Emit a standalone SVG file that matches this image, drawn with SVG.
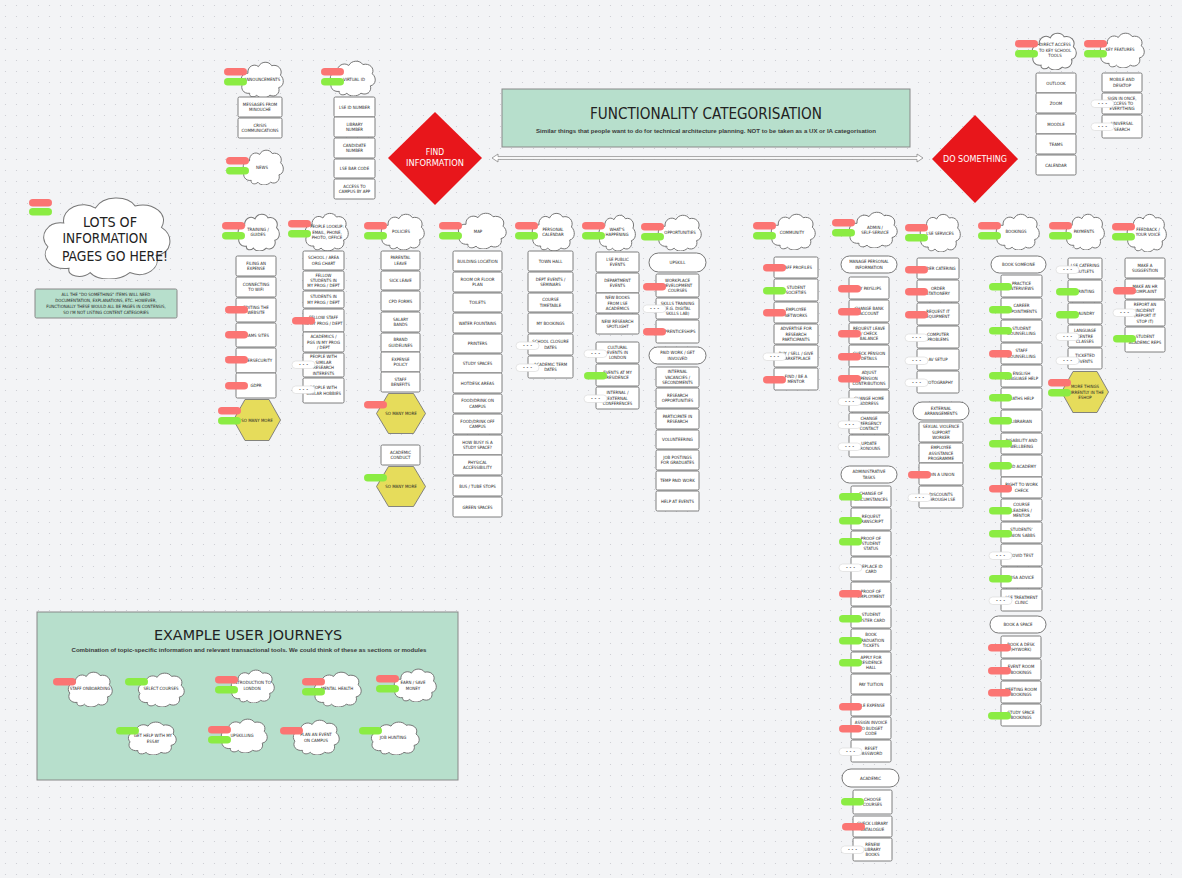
<svg xmlns="http://www.w3.org/2000/svg" width="1182" height="878" viewBox="0 0 1182 878">
<style>
.b{fill:#fff;stroke:#707070;stroke-width:0.9}
.p{fill:#fff;stroke:#6a6a6a;stroke-width:0.9}
.hx{fill:#e6dc5b;stroke:#777;stroke-width:0.9}
.t{font-family:"DejaVu Sans Condensed","DejaVu Sans",sans-serif;font-stretch:condensed;font-size:4.4px;fill:#262626;text-anchor:middle;dominant-baseline:central}
.h{font-family:"DejaVu Sans Condensed","DejaVu Sans",sans-serif;font-stretch:condensed;fill:#222;text-anchor:middle}
.s{font-family:"Liberation Sans",Arial,sans-serif;font-weight:bold;fill:#3a3a3a;text-anchor:middle}
.w{font-family:"DejaVu Sans Condensed","DejaVu Sans",sans-serif;font-stretch:condensed;fill:#fff;text-anchor:middle}
.mint{fill:#b7dfcc;stroke:#888;stroke-width:1}
</style>
<defs>
<pattern id="grid" width="11" height="11" patternUnits="userSpaceOnUse"><circle cx="5.5" cy="5.5" r="0.6" fill="#c9cbcf"/></pattern>
<symbol id="cloud" viewBox="0 0 100 80" preserveAspectRatio="none"><path d="M22,70 C8,72 0,60 6,50 C-2,40 6,26 18,28 C16,14 32,6 42,14 C48,2 66,2 72,12 C86,8 98,20 92,32 C102,40 100,56 88,58 C92,70 80,80 68,74 C60,82 44,82 38,74 C32,80 20,78 22,70 Z" fill="#fff" stroke="#777" stroke-width="1" vector-effect="non-scaling-stroke"/></symbol>
<symbol id="hex" viewBox="0 0 100 86" preserveAspectRatio="none"><polygon points="25,1 75,1 99,43 75,85 25,85 1,43" class="hx" vector-effect="non-scaling-stroke"/></symbol>
<rect id="rp" width="23" height="7.5" rx="3.75" fill="#fb7573"/>
<rect id="gp" width="23" height="7.5" rx="3.75" fill="#8bec43"/>
<g id="dp"><rect width="23" height="7.5" rx="3.75" fill="#fff" stroke="#d6d6d6" stroke-width="0.6"/><text x="11.5" y="3.9" font-family="DejaVu Sans,sans-serif" font-size="4" fill="#777" text-anchor="middle" dominant-baseline="central">• • •</text></g>
</defs>
<rect width="1182" height="878" fill="#f3f4f6"/>
<rect width="1182" height="878" fill="url(#grid)"/>

<g id="connectors">
<polygon points="492,158 498,154 498,156.6 917,156.6 917,154 923,158 917,162 917,159.4 498,159.4 498,162" fill="#fff" stroke="#8a8a8a" stroke-width="0.8"/>
</g>

<g id="title">
<rect x="502" y="89" width="408" height="58" class="mint"/>
<text class="h" x="706" y="119" font-size="15" textLength="232" lengthAdjust="spacingAndGlyphs">FUNCTIONALITY CATEGORISATION</text>
<text class="s" x="706" y="133" font-size="5.6" textLength="340" lengthAdjust="spacingAndGlyphs">Similar things that people want to do for technical architecture planning. NOT to be taken as a UX or IA categorisation</text>
</g>

<g id="find-information">
<polygon points="435,112 482,158 435,205 388,158" fill="#e8161b"/>
<text class="w" x="435" y="155" font-size="8.5">FIND</text>
<text class="w" x="435" y="166" font-size="8.5" textLength="58" lengthAdjust="spacingAndGlyphs">INFORMATION</text>
</g>
<g id="do-something">
<polygon points="975,115 1018,159 975,203 932,159" fill="#e8161b"/>
<text class="w" x="975" y="162" font-size="8.5" textLength="64" lengthAdjust="spacingAndGlyphs">DO SOMETHING</text>
</g>

<g id="lots-of-info">
<use href="#cloud" x="40" y="193" width="132" height="86"/>
<text class="h" x="110" y="227" font-size="14" textLength="54" lengthAdjust="spacingAndGlyphs">LOTS OF</text>
<text class="h" x="105" y="243" font-size="14" textLength="85" lengthAdjust="spacingAndGlyphs">INFORMATION</text>
<text class="h" x="115" y="261" font-size="14" textLength="106" lengthAdjust="spacingAndGlyphs">PAGES GO HERE!</text>
<use href="#rp" x="29" y="199"/><use href="#gp" x="29" y="208"/>
</g>
<g id="note">
<rect x="35" y="289" width="142" height="29" rx="1.5" class="mint"/>
<text class="t" x="106" y="294.5" font-size="4.3">ALL THE "DO SOMETHING" ITEMS WILL NEED</text>
<text class="t" x="106" y="300.5" font-size="4.3">DOCUMENTATION, EXPLANATIONS, ETC. HOWEVER,</text>
<text class="t" x="106" y="306.5" font-size="4.3">FUNCTIONALLY THESE WOULD ALL BE PAGES IN CONTENSIS,</text>
<text class="t" x="106" y="312.5" font-size="4.3">SO I'M NOT LISTING CONTENT CATEGORIES</text>
</g>

<!-- Announcements -->
<g id="announcements">
<use href="#cloud" x="240" y="60" width="44" height="38"/>
<text class="t" x="262" y="79">ANNOUNCEMENTS</text>
<use href="#rp" x="224" y="68"/><use href="#gp" x="224" y="78"/>
</g>
<g id="ann-1"><rect class="b" x="238" y="97" width="44" height="20" rx="1.5"/><text class="t" x="260" y="104.3">MESSAGES FROM</text><text class="t" x="260" y="109.7">MINOUCHE</text></g>
<g id="ann-2"><rect class="b" x="238" y="118" width="44" height="20" rx="1.5"/><text class="t" x="260" y="125.3">CRISIS</text><text class="t" x="260" y="130.7">COMMUNICATIONS</text></g>

<g id="news">
<use href="#cloud" x="242" y="148" width="42" height="37"/>
<text class="t" x="262" y="167">NEWS</text>
<use href="#rp" x="226" y="157"/><use href="#gp" x="226" y="167"/>
</g>

<!-- Virtual ID -->
<g id="virtual-id">
<use href="#cloud" x="329" y="59" width="47" height="37"/>
<text class="t" x="354" y="79">VIRTUAL ID</text>
<use href="#rp" x="321" y="68"/><use href="#gp" x="321" y="78"/>
</g>
<g id="vid-1"><rect class="b" x="334" y="97" width="41" height="20" rx="1.5"/><text class="t" x="354.5" y="107">LSE ID NUMBER</text></g>
<g id="vid-2"><rect class="b" x="334" y="117" width="41" height="20" rx="1.5"/><text class="t" x="354.5" y="124.3">LIBRARY</text><text class="t" x="354.5" y="129.7">NUMBER</text></g>
<g id="vid-3"><rect class="b" x="334" y="138" width="41" height="20" rx="1.5"/><text class="t" x="354.5" y="145.3">CANDIDATE</text><text class="t" x="354.5" y="150.7">NUMBER</text></g>
<g id="vid-4"><rect class="b" x="334" y="159" width="41" height="19" rx="1.5"/><text class="t" x="354.5" y="168.5">LSE BAR CODE</text></g>
<g id="vid-5"><rect class="b" x="334" y="179" width="41" height="20" rx="1.5"/><text class="t" x="354.5" y="186.3">ACCESS TO</text><text class="t" x="354.5" y="191.7">CAMPUS BY APP</text></g>

<!-- Training -->
<g id="training">
<use href="#cloud" x="237" y="212" width="43" height="39"/>
<text class="t" x="258" y="229.3">TRAINING /</text><text class="t" x="258" y="234.7">GUIDES</text>
<use href="#rp" x="222" y="222"/><use href="#gp" x="222" y="232"/>
</g>
<g id="tr-1"><rect class="b" x="236" y="256" width="40" height="20" rx="1.5"/><text class="t" x="256" y="263.3">FILING AN</text><text class="t" x="256" y="268.7">EXPENSE</text></g>
<g id="tr-2"><rect class="b" x="236" y="277" width="40" height="20" rx="1.5"/><text class="t" x="256" y="284.3">CONNECTING</text><text class="t" x="256" y="289.7">TO WIFI</text></g>
<g id="tr-3"><rect class="b" x="236" y="298" width="40" height="24" rx="1.5"/><text class="t" x="256" y="307.3">EDITING THE</text><text class="t" x="256" y="312.7">WEBSITE</text><use href="#rp" x="225" y="306"/></g>
<g id="tr-4"><rect class="b" x="236" y="323" width="40" height="24" rx="1.5"/><text class="t" x="256" y="335">TEAMS SITES</text><use href="#rp" x="225" y="331"/></g>
<g id="tr-5"><rect class="b" x="236" y="348" width="40" height="25" rx="1.5"/><text class="t" x="256" y="360.5">CYBERSECURITY</text><use href="#rp" x="225" y="356"/></g>
<g id="tr-6"><rect class="b" x="236" y="373" width="40" height="25" rx="1.5"/><text class="t" x="256" y="385.5">GDPR</text><use href="#rp" x="225" y="382"/></g>
<g id="tr-more"><use href="#hex" x="233" y="399" width="48" height="42"/><text class="t" x="257" y="420">SO MANY MORE</text><use href="#rp" x="218" y="407"/><use href="#gp" x="218" y="417"/></g>

<!-- People lookup -->
<g id="people-lookup">
<use href="#cloud" x="304" y="211" width="45" height="40"/>
<text class="t" x="327" y="226.6">PEOPLE LOOKUP:</text><text class="t" x="327" y="232">EMAIL, PHONE,</text><text class="t" x="327" y="237.4">PHOTO, OFFICE</text>
<use href="#rp" x="288" y="220"/><use href="#gp" x="288" y="230"/>
</g>
<g id="pl-1"><rect class="b" x="303" y="251" width="41" height="19" rx="1.5"/><text class="t" x="323.5" y="257.8">SCHOOL / AREA</text><text class="t" x="323.5" y="263.2">ORG CHART</text></g>
<g id="pl-2"><rect class="b" x="303" y="271" width="41" height="19" rx="1.5"/><text class="t" x="323.5" y="275.1">FELLOW</text><text class="t" x="323.5" y="280.5">STUDENTS IN</text><text class="t" x="323.5" y="285.9">MY PROG / DEPT</text></g>
<g id="pl-3"><rect class="b" x="303" y="291" width="41" height="17" rx="1.5"/><text class="t" x="323.5" y="296.8">STUDENTS IN</text><text class="t" x="323.5" y="302.2">MY PROG / DEPT</text></g>
<g id="pl-4"><rect class="b" x="303" y="309" width="41" height="23" rx="1.5"/><text class="t" x="323.5" y="317.8">FELLOW STAFF</text><text class="t" x="323.5" y="323.2">IN MY PROG / DEPT</text><use href="#rp" x="292" y="317"/></g>
<g id="pl-5"><rect class="b" x="303" y="332" width="41" height="20" rx="1.5"/><text class="t" x="323.5" y="336.6">ACADEMICS /</text><text class="t" x="323.5" y="342">PGS IN MY PROG</text><text class="t" x="323.5" y="347.4">/ DEPT</text></g>
<g id="pl-6"><rect class="b" x="303" y="353" width="41" height="24" rx="1.5"/><text class="t" x="323.5" y="356.9">PEOPLE WITH</text><text class="t" x="323.5" y="362.3">SIMILAR</text><text class="t" x="323.5" y="367.7">RESEARCH</text><text class="t" x="323.5" y="373.1">INTERESTS</text><use href="#dp" x="292" y="361"/></g>
<g id="pl-7"><rect class="b" x="303" y="378" width="41" height="25" rx="1.5"/><text class="t" x="323.5" y="387.8">PEOPLE WITH</text><text class="t" x="323.5" y="393.2">SIMILAR HOBBIES</text><use href="#dp" x="292" y="386"/></g>

<!-- Policies -->
<g id="policies">
<use href="#cloud" x="380" y="212" width="45" height="38"/>
<text class="t" x="401" y="231">POLICIES</text>
<use href="#rp" x="364" y="222"/><use href="#gp" x="364" y="232"/>
</g>
<g id="po-1"><rect class="b" x="381" y="251" width="39" height="19" rx="1.5"/><text class="t" x="400.5" y="257.8">PARENTAL</text><text class="t" x="400.5" y="263.2">LEAVE</text></g>
<g id="po-2"><rect class="b" x="381" y="271" width="39" height="19" rx="1.5"/><text class="t" x="400.5" y="280.5">SICK LEAVE</text></g>
<g id="po-3"><rect class="b" x="381" y="291" width="39" height="20" rx="1.5"/><text class="t" x="400.5" y="301">CPD FORMS</text></g>
<g id="po-4"><rect class="b" x="381" y="312" width="39" height="20" rx="1.5"/><text class="t" x="400.5" y="319.3">SALARY</text><text class="t" x="400.5" y="324.7">BANDS</text></g>
<g id="po-5"><rect class="b" x="381" y="333" width="39" height="19" rx="1.5"/><text class="t" x="400.5" y="339.8">BRAND</text><text class="t" x="400.5" y="345.2">GUIDELINES</text></g>
<g id="po-6"><rect class="b" x="381" y="352" width="39" height="20" rx="1.5"/><text class="t" x="400.5" y="359.3">EXPENSE</text><text class="t" x="400.5" y="364.7">POLICY</text></g>
<g id="po-7"><rect class="b" x="381" y="372" width="39" height="20" rx="1.5"/><text class="t" x="400.5" y="379.3">STAFF</text><text class="t" x="400.5" y="384.7">BENEFITS</text></g>
<g id="po-more"><use href="#hex" x="376" y="393" width="50" height="41"/><text class="t" x="401" y="413.5">SO MANY MORE</text><use href="#rp" x="364" y="401"/></g>
<g id="po-academic"><rect class="b" x="381" y="445" width="39" height="20" rx="1.5"/><text class="t" x="400.5" y="452.3">ACADEMIC</text><text class="t" x="400.5" y="457.7">CONDUCT</text></g>
<g id="po-more2"><use href="#hex" x="376" y="466" width="50" height="41"/><text class="t" x="401" y="486.5">SO MANY MORE</text><use href="#gp" x="364" y="474"/></g>

<!-- Map -->
<g id="map">
<use href="#cloud" x="457" y="211" width="50" height="38"/>
<text class="t" x="478" y="231">MAP</text>
<use href="#rp" x="439" y="222"/><use href="#gp" x="439" y="232"/>
</g>
<g id="map-1"><rect class="b" x="453" y="251" width="49" height="20" rx="1.5"/><text class="t" x="477.5" y="261">BUILDING LOCATION</text></g>
<g id="map-2"><rect class="b" x="453" y="272" width="49" height="20" rx="1.5"/><text class="t" x="477.5" y="279.3">ROOM OR FLOOR</text><text class="t" x="477.5" y="284.7">PLAN</text></g>
<g id="map-3"><rect class="b" x="453" y="293" width="49" height="19" rx="1.5"/><text class="t" x="477.5" y="302.5">TOILETS</text></g>
<g id="map-4"><rect class="b" x="453" y="313" width="49" height="20" rx="1.5"/><text class="t" x="477.5" y="323">WATER FOUNTAINS</text></g>
<g id="map-5"><rect class="b" x="453" y="334" width="49" height="19" rx="1.5"/><text class="t" x="477.5" y="343.5">PRINTERS</text></g>
<g id="map-6"><rect class="b" x="453" y="354" width="49" height="19" rx="1.5"/><text class="t" x="477.5" y="363.5">STUDY SPACES</text></g>
<g id="map-7"><rect class="b" x="453" y="373" width="49" height="20" rx="1.5"/><text class="t" x="477.5" y="383">HOTDESK AREAS</text></g>
<g id="map-8"><rect class="b" x="453" y="394" width="49" height="19" rx="1.5"/><text class="t" x="477.5" y="400.8">FOOD/DRINK ON</text><text class="t" x="477.5" y="406.2">CAMPUS</text></g>
<g id="map-9"><rect class="b" x="453" y="414" width="49" height="20" rx="1.5"/><text class="t" x="477.5" y="421.3">FOOD/DRINK OFF</text><text class="t" x="477.5" y="426.7">CAMPUS</text></g>
<g id="map-10"><rect class="b" x="453" y="435" width="49" height="20" rx="1.5"/><text class="t" x="477.5" y="442.3">HOW BUSY IS A</text><text class="t" x="477.5" y="447.7">STUDY SPACE?</text></g>
<g id="map-11"><rect class="b" x="453" y="455" width="49" height="20" rx="1.5"/><text class="t" x="477.5" y="462.3">PHYSICAL</text><text class="t" x="477.5" y="467.7">ACCESSIBILITY</text></g>
<g id="map-12"><rect class="b" x="453" y="476" width="49" height="20" rx="1.5"/><text class="t" x="477.5" y="486">BUS / TUBE STOPS</text></g>
<g id="map-13"><rect class="b" x="453" y="497" width="49" height="20" rx="1.5"/><text class="t" x="477.5" y="507">GREEN SPACES</text></g>

<!-- Personal calendar -->
<g id="personal-calendar">
<use href="#cloud" x="531" y="211" width="44" height="40"/>
<text class="t" x="553" y="229.3">PERSONAL</text><text class="t" x="553" y="234.7">CALENDAR</text>
<use href="#rp" x="515" y="222"/><use href="#gp" x="515" y="232"/>
</g>
<g id="pc-1"><rect class="b" x="528" y="251" width="45" height="20" rx="1.5"/><text class="t" x="550.5" y="261">TOWN HALL</text></g>
<g id="pc-2"><rect class="b" x="528" y="272" width="45" height="20" rx="1.5"/><text class="t" x="550.5" y="279.3">DEPT EVENTS /</text><text class="t" x="550.5" y="284.7">SEMINARS</text></g>
<g id="pc-3"><rect class="b" x="528" y="293" width="45" height="19" rx="1.5"/><text class="t" x="550.5" y="299.8">COURSE</text><text class="t" x="550.5" y="305.2">TIMETABLE</text></g>
<g id="pc-4"><rect class="b" x="528" y="313" width="45" height="20" rx="1.5"/><text class="t" x="550.5" y="323">MY BOOKINGS</text></g>
<g id="pc-5"><rect class="b" x="528" y="334" width="45" height="21" rx="1.5"/><text class="t" x="550.5" y="341.8">SCHOOL CLOSURE</text><text class="t" x="550.5" y="347.2">DATES</text><use href="#dp" x="516" y="342"/></g>
<g id="pc-6"><rect class="b" x="528" y="356" width="45" height="22" rx="1.5"/><text class="t" x="550.5" y="364.3">ACADEMIC TERM</text><text class="t" x="550.5" y="369.7">DATES</text><use href="#dp" x="516" y="364"/></g>

<!-- What's happening -->
<g id="whats-happening">
<use href="#cloud" x="598" y="213" width="38" height="38"/>
<text class="t" x="617" y="229.3">WHAT'S</text><text class="t" x="617" y="234.7">HAPPENING</text>
<use href="#rp" x="582" y="222"/><use href="#gp" x="582" y="232"/>
</g>
<g id="wh-1"><rect class="b" x="596" y="252" width="43" height="20" rx="1.5"/><text class="t" x="617.5" y="259.3">LSE PUBLIC</text><text class="t" x="617.5" y="264.7">EVENTS</text></g>
<g id="wh-2"><rect class="b" x="596" y="273" width="43" height="20" rx="1.5"/><text class="t" x="617.5" y="280.3">DEPARTMENT</text><text class="t" x="617.5" y="285.7">EVENTS</text></g>
<g id="wh-3"><rect class="b" x="596" y="293" width="43" height="20" rx="1.5"/><text class="t" x="617.5" y="297.6">NEW BOOKS</text><text class="t" x="617.5" y="303">FROM LSE</text><text class="t" x="617.5" y="308.4">ACADEMICS</text></g>
<g id="wh-4"><rect class="b" x="596" y="314" width="43" height="20" rx="1.5"/><text class="t" x="617.5" y="321.3">NEW RESEARCH</text><text class="t" x="617.5" y="326.7">SPOTLIGHT</text></g>
<g id="wh-5"><rect class="b" x="596" y="342" width="43" height="21" rx="1.5"/><text class="t" x="617.5" y="347.1">CULTURAL</text><text class="t" x="617.5" y="352.5">EVENTS IN</text><text class="t" x="617.5" y="357.9">LONDON</text><use href="#dp" x="584" y="350"/></g>
<g id="wh-6"><rect class="b" x="596" y="364" width="43" height="22" rx="1.5"/><text class="t" x="617.5" y="372.3">EVENTS AT MY</text><text class="t" x="617.5" y="377.7">RESIDENCE</text><use href="#gp" x="584" y="372"/></g>
<g id="wh-7"><rect class="b" x="596" y="387" width="43" height="22" rx="1.5"/><text class="t" x="617.5" y="392.6">INTERNAL /</text><text class="t" x="617.5" y="398">EXTERNAL</text><text class="t" x="617.5" y="403.4">CONFERENCES</text><use href="#dp" x="584" y="395"/></g>

<!-- Opportunities -->
<g id="opportunities">
<use href="#cloud" x="657" y="213" width="45" height="38"/>
<text class="t" x="680" y="232">OPPORTUNITIES</text>
<use href="#rp" x="641" y="223"/><use href="#gp" x="641" y="233"/>
</g>
<g id="op-upskill"><rect class="p" x="649" y="253" width="57" height="19" rx="9.5"/><text class="t" x="677.5" y="262.5">UPSKILL</text></g>
<g id="op-1"><rect class="b" x="656" y="274" width="43" height="23" rx="1.5"/><text class="t" x="677.5" y="280.1">WORKPLACE</text><text class="t" x="677.5" y="285.5">DEVELOPMENT</text><text class="t" x="677.5" y="290.9">COURSES</text><use href="#rp" x="643" y="283"/></g>
<g id="op-2"><rect class="b" x="656" y="298" width="43" height="21" rx="1.5"/><text class="t" x="677.5" y="303.1">SKILLS TRAINING</text><text class="t" x="677.5" y="308.5">(E.G. DIGITAL</text><text class="t" x="677.5" y="313.9">SKILLS LAB)</text><use href="#dp" x="643" y="305"/></g>
<g id="op-3"><rect class="b" x="656" y="320" width="43" height="23" rx="1.5"/><text class="t" x="677.5" y="331.5">APPRENTICESHIPS</text><use href="#rp" x="643" y="328"/></g>
<g id="op-paid"><rect class="p" x="649" y="347" width="57" height="17" rx="8.5"/><text class="t" x="677.5" y="352.8">PAID WORK / GET</text><text class="t" x="677.5" y="358.2">INVOLVED</text></g>
<g id="op-4"><rect class="b" x="656" y="367" width="43" height="20" rx="1.5"/><text class="t" x="677.5" y="371.6">INTERNAL</text><text class="t" x="677.5" y="377">VACANCIES /</text><text class="t" x="677.5" y="382.4">SECONDMENTS</text></g>
<g id="op-5"><rect class="b" x="656" y="388" width="43" height="20" rx="1.5"/><text class="t" x="677.5" y="395.3">RESEARCH</text><text class="t" x="677.5" y="400.7">OPPORTUNITIES</text></g>
<g id="op-6"><rect class="b" x="656" y="409" width="43" height="20" rx="1.5"/><text class="t" x="677.5" y="416.3">PARTICIPATE IN</text><text class="t" x="677.5" y="421.7">RESEARCH</text></g>
<g id="op-7"><rect class="b" x="656" y="430" width="43" height="19" rx="1.5"/><text class="t" x="677.5" y="439.5">VOLUNTEERING</text></g>
<g id="op-8"><rect class="b" x="656" y="450" width="43" height="20" rx="1.5"/><text class="t" x="677.5" y="457.3">JOB POSTINGS</text><text class="t" x="677.5" y="462.7">FOR GRADUATES</text></g>
<g id="op-9"><rect class="b" x="656" y="471" width="43" height="19" rx="1.5"/><text class="t" x="677.5" y="480.5">TEMP PAID WORK</text></g>
<g id="op-10"><rect class="b" x="656" y="491" width="43" height="20" rx="1.5"/><text class="t" x="677.5" y="501">HELP AT EVENTS</text></g>

<!-- Community -->
<g id="community">
<use href="#cloud" x="770" y="212" width="46" height="38"/>
<text class="t" x="792" y="232">COMMUNITY</text>
<use href="#rp" x="753" y="222"/><use href="#gp" x="753" y="232"/>
</g>
<g id="co-1"><rect class="b" x="774" y="257" width="44" height="21" rx="1.5"/><text class="t" x="796" y="267.5">STAFF PROFILES</text><use href="#rp" x="763" y="264"/></g>
<g id="co-2"><rect class="b" x="774" y="279" width="44" height="22" rx="1.5"/><text class="t" x="796" y="287.3">STUDENT</text><text class="t" x="796" y="292.7">SOCIETIES</text><use href="#gp" x="763" y="287"/></g>
<g id="co-3"><rect class="b" x="774" y="302" width="44" height="21" rx="1.5"/><text class="t" x="796" y="309.8">EMPLOYEE</text><text class="t" x="796" y="315.2">NETWORKS</text><use href="#rp" x="763" y="309"/></g>
<g id="co-4"><rect class="b" x="774" y="324" width="44" height="20" rx="1.5"/><text class="t" x="796" y="328.6">ADVERTISE FOR</text><text class="t" x="796" y="334">RESEARCH</text><text class="t" x="796" y="339.4">PARTICIPANTS</text></g>
<g id="co-5"><rect class="b" x="774" y="345" width="44" height="22" rx="1.5"/><text class="t" x="796" y="353.3">BUY / SELL / GIVE</text><text class="t" x="796" y="358.7">MARKETPLACE</text><use href="#dp" x="763" y="353"/></g>
<g id="co-6"><rect class="b" x="774" y="368" width="44" height="22" rx="1.5"/><text class="t" x="796" y="376.3">FIND / BE A</text><text class="t" x="796" y="381.7">MENTOR</text><use href="#rp" x="763" y="376"/></g>

<!-- Admin / self-service -->
<g id="admin">
<use href="#cloud" x="848" y="210" width="50" height="38"/>
<text class="t" x="875" y="227.3">ADMIN /</text><text class="t" x="875" y="232.7">SELF-SERVICE</text>
<use href="#rp" x="832" y="219"/><use href="#gp" x="832" y="229"/>
</g>
<g id="ad-manage"><rect class="p" x="841" y="256" width="56" height="17" rx="8.5"/><text class="t" x="869" y="261.8">MANAGE PERSONAL</text><text class="t" x="869" y="267.2">INFORMATION</text></g>
<g id="ad-1"><rect class="b" x="849" y="277" width="40" height="22" rx="1.5"/><text class="t" x="869" y="288">MY PAYSLIPS</text><use href="#rp" x="838" y="285"/></g>
<g id="ad-2"><rect class="b" x="849" y="300" width="40" height="22" rx="1.5"/><text class="t" x="869" y="308.3">CHANGE BANK</text><text class="t" x="869" y="313.7">ACCOUNT</text><use href="#rp" x="838" y="308"/></g>
<g id="ad-3"><rect class="b" x="849" y="323" width="40" height="21" rx="1.5"/><text class="t" x="869" y="328.1">REQUEST LEAVE</text><text class="t" x="869" y="333.5">/ CHECK</text><text class="t" x="869" y="338.9">BALANCE</text><use href="#rp" x="838" y="330"/></g>
<g id="ad-4"><rect class="b" x="849" y="345" width="40" height="22" rx="1.5"/><text class="t" x="869" y="353.3">CHECK PENSION</text><text class="t" x="869" y="358.7">DETAILS</text><use href="#rp" x="838" y="353"/></g>
<g id="ad-5"><rect class="b" x="849" y="367" width="40" height="22" rx="1.5"/><text class="t" x="869" y="372.6">ADJUST</text><text class="t" x="869" y="378">PENSION</text><text class="t" x="869" y="383.4">CONTRIBUTIONS</text><use href="#rp" x="838" y="375"/></g>
<g id="ad-6"><rect class="b" x="849" y="390" width="40" height="22" rx="1.5"/><text class="t" x="869" y="398.3">CHANGE HOME</text><text class="t" x="869" y="403.7">ADDRESS</text><use href="#dp" x="838" y="398"/></g>
<g id="ad-7"><rect class="b" x="849" y="413" width="40" height="21" rx="1.5"/><text class="t" x="869" y="418.1">CHANGE</text><text class="t" x="869" y="423.5">EMERGENCY</text><text class="t" x="869" y="428.9">CONTACT</text><use href="#dp" x="838" y="421"/></g>
<g id="ad-8"><rect class="b" x="849" y="435" width="40" height="22" rx="1.5"/><text class="t" x="869" y="443.3">UPDATE</text><text class="t" x="869" y="448.7">PRONOUNS</text><use href="#dp" x="838" y="443"/></g>
<g id="ad-tasks"><rect class="p" x="841" y="466" width="56" height="17" rx="8.5"/><text class="t" x="869" y="471.8">ADMINISTRATIVE</text><text class="t" x="869" y="477.2">TASKS</text></g>
<g id="ad-9"><rect class="b" x="851" y="486" width="40" height="21" rx="1.5"/><text class="t" x="871" y="493.8">CHANGE OF</text><text class="t" x="871" y="499.2">CIRCUMSTANCES</text><use href="#gp" x="839" y="493"/></g>
<g id="ad-10"><rect class="b" x="851" y="508" width="40" height="22" rx="1.5"/><text class="t" x="871" y="516.3">REQUEST</text><text class="t" x="871" y="521.7">TRANSCRIPT</text><use href="#gp" x="839" y="517"/></g>
<g id="ad-11"><rect class="b" x="851" y="531" width="40" height="25" rx="1.5"/><text class="t" x="871" y="538.1">PROOF OF</text><text class="t" x="871" y="543.5">STUDENT</text><text class="t" x="871" y="548.9">STATUS</text><use href="#gp" x="839" y="538"/></g>
<g id="ad-12"><rect class="b" x="851" y="557" width="40" height="24" rx="1.5"/><text class="t" x="871" y="566.3">REPLACE ID</text><text class="t" x="871" y="571.7">CARD</text><use href="#dp" x="839" y="564"/></g>
<g id="ad-13"><rect class="b" x="851" y="582" width="40" height="24" rx="1.5"/><text class="t" x="871" y="591.3">PROOF OF</text><text class="t" x="871" y="596.7">EMPLOYMENT</text><use href="#rp" x="839" y="590"/></g>
<g id="ad-14"><rect class="b" x="851" y="607" width="40" height="21" rx="1.5"/><text class="t" x="871" y="614.8">STUDENT</text><text class="t" x="871" y="620.2">OYSTER CARD</text><use href="#gp" x="839" y="615"/></g>
<g id="ad-15"><rect class="b" x="851" y="629" width="40" height="22" rx="1.5"/><text class="t" x="871" y="634.6">BOOK</text><text class="t" x="871" y="640">GRADUATION</text><text class="t" x="871" y="645.4">TICKETS</text><use href="#gp" x="839" y="637"/></g>
<g id="ad-16"><rect class="b" x="851" y="652" width="40" height="21" rx="1.5"/><text class="t" x="871" y="657.1">APPLY FOR</text><text class="t" x="871" y="662.5">RESIDENCE</text><text class="t" x="871" y="667.9">HALL</text><use href="#gp" x="839" y="659"/></g>
<g id="ad-17"><rect class="b" x="851" y="674" width="40" height="20" rx="1.5"/><text class="t" x="871" y="684">PAY TUITION</text></g>
<g id="ad-18"><rect class="b" x="851" y="695" width="40" height="21" rx="1.5"/><text class="t" x="871" y="705.5">FILE EXPENSE</text><use href="#rp" x="839" y="703"/></g>
<g id="ad-19"><rect class="b" x="851" y="717" width="40" height="22" rx="1.5"/><text class="t" x="871" y="722.6">ASSIGN INVOICE</text><text class="t" x="871" y="728">TO BUDGET</text><text class="t" x="871" y="733.4">CODE</text><use href="#rp" x="839" y="725"/></g>
<g id="ad-20"><rect class="b" x="851" y="740" width="40" height="22" rx="1.5"/><text class="t" x="871" y="748.3">RESET</text><text class="t" x="871" y="753.7">PASSWORD</text><use href="#dp" x="839" y="748"/></g>
<g id="ad-academic"><rect class="p" x="842" y="769" width="57" height="18" rx="9"/><text class="t" x="870.5" y="778">ACADEMIC</text></g>
<g id="ad-21"><rect class="b" x="853" y="790" width="39" height="24" rx="1.5"/><text class="t" x="872.5" y="799.3">CHOOSE</text><text class="t" x="872.5" y="804.7">COURSES</text><use href="#gp" x="841" y="798"/></g>
<g id="ad-22"><rect class="b" x="853" y="816" width="39" height="21" rx="1.5"/><text class="t" x="872.5" y="823.8">CHECK LIBRARY</text><text class="t" x="872.5" y="829.2">CATALOGUE</text><use href="#rp" x="842" y="823"/></g>
<g id="ad-23"><rect class="b" x="853" y="838" width="39" height="23" rx="1.5"/><text class="t" x="872.5" y="844.1">RENEW</text><text class="t" x="872.5" y="849.5">LIBRARY</text><text class="t" x="872.5" y="854.9">BOOKS</text><use href="#dp" x="841" y="846"/></g>

<!-- LSE services -->
<g id="lse-services">
<use href="#cloud" x="919" y="212" width="42" height="40"/>
<text class="t" x="940" y="233">LSE SERVICES</text>
<use href="#rp" x="905" y="224"/><use href="#gp" x="905" y="234"/>
</g>
<g id="ls-1"><rect class="b" x="917" y="258" width="42" height="21" rx="1.5"/><text class="t" x="938" y="268.5">ORDER CATERING</text><use href="#rp" x="905" y="266"/></g>
<g id="ls-2"><rect class="b" x="917" y="280" width="42" height="22" rx="1.5"/><text class="t" x="938" y="288.3">ORDER</text><text class="t" x="938" y="293.7">STATIONERY</text><use href="#rp" x="905" y="288"/></g>
<g id="ls-3"><rect class="b" x="917" y="303" width="42" height="22" rx="1.5"/><text class="t" x="938" y="311.3">REQUEST IT</text><text class="t" x="938" y="316.7">EQUIPMENT</text><use href="#rp" x="905" y="311"/></g>
<g id="ls-4"><rect class="b" x="917" y="326" width="42" height="22" rx="1.5"/><text class="t" x="938" y="334.3">COMPUTER</text><text class="t" x="938" y="339.7">PROBLEMS</text><use href="#dp" x="905" y="334"/></g>
<g id="ls-5"><rect class="b" x="917" y="349" width="42" height="21" rx="1.5"/><text class="t" x="938" y="359.5">AV SETUP</text><use href="#dp" x="905" y="357"/></g>
<g id="ls-6"><rect class="b" x="917" y="371" width="42" height="22" rx="1.5"/><text class="t" x="938" y="382">PHOTOGRAPHY</text><use href="#dp" x="905" y="379"/></g>
<g id="ls-external"><rect class="p" x="913" y="402" width="56" height="18" rx="9"/><text class="t" x="941" y="408.3">EXTERNAL</text><text class="t" x="941" y="413.7">ARRANGEMENTS</text></g>
<g id="ls-7"><rect class="b" x="919" y="422" width="44" height="20" rx="1.5"/><text class="t" x="941" y="426.6">SEXUAL VIOLENCE</text><text class="t" x="941" y="432">SUPPORT</text><text class="t" x="941" y="437.4">WORKER</text></g>
<g id="ls-8"><rect class="b" x="919" y="443" width="44" height="20" rx="1.5"/><text class="t" x="941" y="447.6">EMPLOYEE</text><text class="t" x="941" y="453">ASSISTANCE</text><text class="t" x="941" y="458.4">PROGRAMME</text></g>
<g id="ls-9"><rect class="b" x="919" y="463" width="44" height="22" rx="1.5"/><text class="t" x="941" y="474">JOIN A UNION</text><use href="#rp" x="908" y="471"/></g>
<g id="ls-10"><rect class="b" x="919" y="486" width="44" height="22" rx="1.5"/><text class="t" x="941" y="494.3">DISCOUNTS</text><text class="t" x="941" y="499.7">THROUGH LSE</text><use href="#dp" x="908" y="494"/></g>

<!-- Bookings -->
<g id="bookings">
<use href="#cloud" x="995" y="212" width="45" height="38"/>
<text class="t" x="1016" y="231">BOOKINGS</text>
<use href="#rp" x="978" y="222"/><use href="#gp" x="978" y="232"/>
</g>
<g id="bk-someone"><rect class="p" x="991" y="256" width="55" height="17" rx="8.5"/><text class="t" x="1018.5" y="264.5">BOOK SOMEONE</text></g>
<g id="bk-1"><rect class="b" x="1001" y="275" width="41" height="22" rx="1.5"/><text class="t" x="1021.5" y="283.3">PRACTICE</text><text class="t" x="1021.5" y="288.7">INTERVIEWS</text><use href="#gp" x="989" y="283"/></g>
<g id="bk-2"><rect class="b" x="1001" y="298" width="41" height="21" rx="1.5"/><text class="t" x="1021.5" y="305.8">CAREER</text><text class="t" x="1021.5" y="311.2">APPOINTMENTS</text><use href="#gp" x="989" y="306"/></g>
<g id="bk-3"><rect class="b" x="1001" y="320" width="41" height="22" rx="1.5"/><text class="t" x="1021.5" y="328.3">STUDENT</text><text class="t" x="1021.5" y="333.7">COUNSELLING</text><use href="#gp" x="989" y="327"/></g>
<g id="bk-4"><rect class="b" x="1001" y="343" width="41" height="21" rx="1.5"/><text class="t" x="1021.5" y="350.8">STAFF</text><text class="t" x="1021.5" y="356.2">COUNSELLING</text><use href="#rp" x="989" y="350"/></g>
<g id="bk-5"><rect class="b" x="1001" y="365" width="41" height="22" rx="1.5"/><text class="t" x="1021.5" y="373.3">ENGLISH</text><text class="t" x="1021.5" y="378.7">LANGUAGE HELP</text><use href="#gp" x="989" y="372"/></g>
<g id="bk-6"><rect class="b" x="1001" y="388" width="41" height="21" rx="1.5"/><text class="t" x="1021.5" y="398.5">MATHS HELP</text><use href="#gp" x="989" y="394"/></g>
<g id="bk-7"><rect class="b" x="1001" y="410" width="41" height="22" rx="1.5"/><text class="t" x="1021.5" y="421">LIBRARIAN</text><use href="#gp" x="989" y="417"/></g>
<g id="bk-8"><rect class="b" x="1001" y="433" width="41" height="21" rx="1.5"/><text class="t" x="1021.5" y="440.8">DISABILITY AND</text><text class="t" x="1021.5" y="446.2">WELLBEING</text><use href="#gp" x="989" y="440"/></g>
<g id="bk-9"><rect class="b" x="1001" y="455" width="41" height="22" rx="1.5"/><text class="t" x="1021.5" y="466">PHD ACADEMY</text><use href="#gp" x="989" y="462"/></g>
<g id="bk-10"><rect class="b" x="1001" y="477" width="41" height="21" rx="1.5"/><text class="t" x="1021.5" y="484.8">RIGHT TO WORK</text><text class="t" x="1021.5" y="490.2">CHECK</text><use href="#rp" x="989" y="485"/></g>
<g id="bk-11"><rect class="b" x="1001" y="499" width="41" height="22" rx="1.5"/><text class="t" x="1021.5" y="504.6">COURSE</text><text class="t" x="1021.5" y="510">LEADERS /</text><text class="t" x="1021.5" y="515.4">MENTOR</text><use href="#gp" x="989" y="507"/></g>
<g id="bk-12"><rect class="b" x="1001" y="522" width="41" height="21" rx="1.5"/><text class="t" x="1021.5" y="529.8">STUDENTS'</text><text class="t" x="1021.5" y="535.2">UNION SABBS</text><use href="#gp" x="989" y="530"/></g>
<g id="bk-13"><rect class="b" x="1001" y="544" width="41" height="22" rx="1.5"/><text class="t" x="1021.5" y="555">COVID TEST</text><use href="#dp" x="989" y="552"/></g>
<g id="bk-14"><rect class="b" x="1001" y="567" width="41" height="21" rx="1.5"/><text class="t" x="1021.5" y="577.5">VISA ADVICE</text><use href="#gp" x="989" y="575"/></g>
<g id="bk-15"><rect class="b" x="1001" y="589" width="41" height="22" rx="1.5"/><text class="t" x="1021.5" y="597.3">LSE TREATMENT</text><text class="t" x="1021.5" y="602.7">CLINIC</text><use href="#dp" x="989" y="597"/></g>
<g id="bk-space"><rect class="p" x="990" y="616" width="56" height="17" rx="8.5"/><text class="t" x="1018" y="624.5">BOOK A SPACE</text></g>
<g id="bk-16"><rect class="b" x="1001" y="636" width="40" height="22" rx="1.5"/><text class="t" x="1021" y="644.3">BOOK A DESK</text><text class="t" x="1021" y="649.7">(HYWORK)</text><use href="#rp" x="988" y="644"/></g>
<g id="bk-17"><rect class="b" x="1001" y="659" width="40" height="21" rx="1.5"/><text class="t" x="1021" y="666.8">EVENT ROOM</text><text class="t" x="1021" y="672.2">BOOKINGS</text><use href="#rp" x="988" y="667"/></g>
<g id="bk-18"><rect class="b" x="1001" y="681" width="40" height="22" rx="1.5"/><text class="t" x="1021" y="689.3">MEETING ROOM</text><text class="t" x="1021" y="694.7">BOOKINGS</text><use href="#rp" x="988" y="689"/></g>
<g id="bk-19"><rect class="b" x="1001" y="704" width="40" height="22" rx="1.5"/><text class="t" x="1021" y="712.3">STUDY SPACE</text><text class="t" x="1021" y="717.7">BOOKINGS</text><use href="#gp" x="988" y="712"/></g>

<!-- Payments -->
<g id="payments">
<use href="#cloud" x="1065" y="212" width="40" height="38"/>
<text class="t" x="1084" y="231">PAYMENTS</text>
<use href="#rp" x="1049" y="222"/><use href="#gp" x="1049" y="232"/>
</g>
<g id="pa-1"><rect class="b" x="1068" y="258" width="34" height="21" rx="1.5"/><text class="t" x="1085" y="265.8">LSE CATERING</text><text class="t" x="1085" y="271.2">OUTLETS</text><use href="#dp" x="1056" y="266"/></g>
<g id="pa-2"><rect class="b" x="1068" y="280" width="34" height="22" rx="1.5"/><text class="t" x="1085" y="291">PRINTING</text><use href="#gp" x="1056" y="288"/></g>
<g id="pa-3"><rect class="b" x="1068" y="303" width="34" height="21" rx="1.5"/><text class="t" x="1085" y="313.5">LAUNDRY</text><use href="#gp" x="1056" y="311"/></g>
<g id="pa-4"><rect class="b" x="1068" y="325" width="34" height="22" rx="1.5"/><text class="t" x="1085" y="330.6">LANGUAGE</text><text class="t" x="1085" y="336">CENTRE</text><text class="t" x="1085" y="341.4">CLASSES</text><use href="#dp" x="1056" y="333"/></g>
<g id="pa-5"><rect class="b" x="1068" y="348" width="34" height="21" rx="1.5"/><text class="t" x="1085" y="355.8">TICKETED</text><text class="t" x="1085" y="361.2">EVENTS</text><use href="#dp" x="1056" y="357"/></g>
<g id="pa-more"><use href="#hex" x="1061" y="371" width="48" height="42"/><text class="t" x="1085" y="386.6">MORE THINGS</text><text class="t" x="1085" y="392">CURRENTLY IN THE</text><text class="t" x="1085" y="397.4">ESHOP</text><use href="#rp" x="1048" y="379"/><use href="#gp" x="1048" y="389"/></g>

<!-- Feedback -->
<g id="feedback">
<use href="#cloud" x="1126" y="212" width="41" height="40"/>
<text class="t" x="1148" y="229.3">FEEDBACK /</text><text class="t" x="1148" y="234.7">YOUR VOICE</text>
<use href="#rp" x="1112" y="223"/><use href="#gp" x="1112" y="233"/>
</g>
<g id="fb-1"><rect class="b" x="1125" y="258" width="40" height="20" rx="1.5"/><text class="t" x="1145" y="265.3">MAKE A</text><text class="t" x="1145" y="270.7">SUGGESTION</text></g>
<g id="fb-2"><rect class="b" x="1125" y="279" width="40" height="20" rx="1.5"/><text class="t" x="1145" y="286.3">MAKE AN HR</text><text class="t" x="1145" y="291.7">COMPLAINT</text><use href="#rp" x="1113" y="287"/></g>
<g id="fb-3"><rect class="b" x="1125" y="300" width="40" height="26" rx="1.5"/><text class="t" x="1145" y="304.9">REPORT AN</text><text class="t" x="1145" y="310.3">INCIDENT</text><text class="t" x="1145" y="315.7">(REPORT IT</text><text class="t" x="1145" y="321.1">STOP IT)</text><use href="#dp" x="1113" y="309"/></g>
<g id="fb-4"><rect class="b" x="1125" y="327" width="40" height="25" rx="1.5"/><text class="t" x="1145" y="336.8">STUDENT</text><text class="t" x="1145" y="342.2">ACADEMIC REPS</text><use href="#gp" x="1113" y="335"/></g>

<!-- Direct access -->
<g id="direct-access">
<use href="#cloud" x="1031" y="31" width="46" height="39"/>
<text class="t" x="1055" y="44.6">DIRECT ACCESS</text><text class="t" x="1055" y="50">TO KEY SCHOOL</text><text class="t" x="1055" y="55.4">TOOLS</text>
<use href="#rp" x="1015" y="40"/><use href="#gp" x="1015" y="50"/>
</g>
<g id="da-1"><rect class="b" x="1036" y="73" width="40" height="20" rx="1.5"/><text class="t" x="1056" y="83">OUTLOOK</text></g>
<g id="da-2"><rect class="b" x="1036" y="93" width="40" height="20" rx="1.5"/><text class="t" x="1056" y="103">ZOOM</text></g>
<g id="da-3"><rect class="b" x="1036" y="114" width="40" height="20" rx="1.5"/><text class="t" x="1056" y="124">MOODLE</text></g>
<g id="da-4"><rect class="b" x="1036" y="134" width="40" height="20" rx="1.5"/><text class="t" x="1056" y="144">TEAMS</text></g>
<g id="da-5"><rect class="b" x="1036" y="155" width="40" height="20" rx="1.5"/><text class="t" x="1056" y="165">CALENDAR</text></g>

<!-- Key features -->
<g id="key-features">
<use href="#cloud" x="1099" y="31" width="46" height="37"/>
<text class="t" x="1120" y="49">KEY FEATURES</text>
<use href="#rp" x="1084" y="40"/><use href="#gp" x="1084" y="50"/>
</g>
<g id="kf-1"><rect class="b" x="1102" y="73" width="40" height="19" rx="1.5"/><text class="t" x="1122" y="79.8">MOBILE AND</text><text class="t" x="1122" y="85.2">DESKTOP</text></g>
<g id="kf-2"><rect class="b" x="1102" y="93" width="40" height="21" rx="1.5"/><text class="t" x="1122" y="98.1">SIGN IN ONCE,</text><text class="t" x="1122" y="103.5">ACCESS TO</text><text class="t" x="1122" y="108.9">EVERYTHING</text><use href="#dp" x="1091" y="100"/></g>
<g id="kf-3"><rect class="b" x="1102" y="115" width="40" height="23" rx="1.5"/><text class="t" x="1122" y="123.8">UNIVERSAL</text><text class="t" x="1122" y="129.2">SEARCH</text><use href="#dp" x="1091" y="123"/></g>

<!-- Example user journeys -->
<g id="example-journeys">
<rect x="37" y="612" width="421" height="168" class="mint"/>
<text class="h" x="248" y="640" font-size="14" textLength="188" lengthAdjust="spacingAndGlyphs">EXAMPLE USER JOURNEYS</text>
<text class="s" x="249" y="652" font-size="6" textLength="355" lengthAdjust="spacingAndGlyphs">Combination of topic-specific information and relevant transactional tools. We could think of these as sections or modules</text>
</g>
<g id="uj-onboarding"><use href="#cloud" x="67" y="670" width="46" height="37"/><text class="t" x="90" y="688">STAFF ONBOARDING</text><use href="#rp" x="53" y="678"/></g>
<g id="uj-courses"><use href="#cloud" x="137" y="671" width="48" height="36"/><text class="t" x="161" y="688">SELECT COURSES</text><use href="#gp" x="125" y="678"/></g>
<g id="uj-london"><use href="#cloud" x="230" y="668" width="45" height="35"/><text class="t" x="252" y="682">INTRODUCTION TO</text><text class="t" x="252" y="688">LONDON</text><use href="#rp" x="215" y="676"/><use href="#gp" x="215" y="686"/></g>
<g id="uj-mental"><use href="#cloud" x="313" y="670" width="49" height="37"/><text class="t" x="337" y="688">MENTAL HEALTH</text><use href="#rp" x="302" y="678"/><use href="#gp" x="302" y="688"/></g>
<g id="uj-money"><use href="#cloud" x="393" y="667" width="44" height="35"/><text class="t" x="413" y="682">EARN / SAVE</text><text class="t" x="413" y="688">MONEY</text><use href="#rp" x="376" y="675"/><use href="#gp" x="376" y="685"/></g>
<g id="uj-essay"><use href="#cloud" x="127" y="720" width="50" height="35"/><text class="t" x="153" y="735">GET HELP WITH MY</text><text class="t" x="153" y="741">ESSAY</text><use href="#gp" x="116" y="727"/></g>
<g id="uj-upskilling"><use href="#cloud" x="220" y="717" width="48" height="36"/><text class="t" x="242" y="735">UPSKILLING</text><use href="#rp" x="208" y="726"/><use href="#gp" x="208" y="736"/></g>
<g id="uj-event"><use href="#cloud" x="292" y="718" width="48" height="37"/><text class="t" x="316" y="734">PLAN AN EVENT</text><text class="t" x="316" y="740">ON CAMPUS</text><use href="#rp" x="280" y="727"/></g>
<g id="uj-job"><use href="#cloud" x="370" y="720" width="50" height="35"/><text class="t" x="393" y="737">JOB HUNTING</text><use href="#gp" x="359" y="727"/></g>
</svg>
